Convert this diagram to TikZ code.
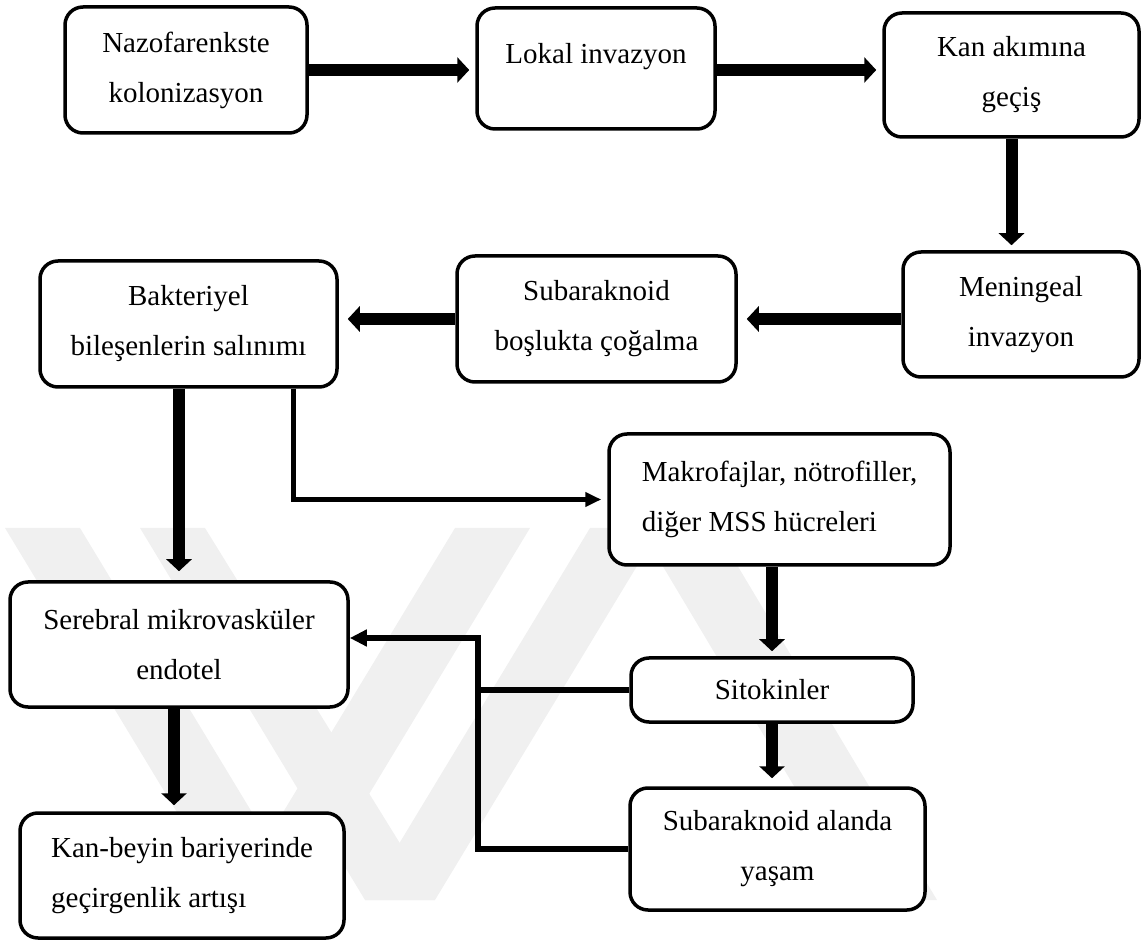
\documentclass[tikz,border=0pt]{standalone}
\usepackage{fontspec}
\setmainfont{Liberation Serif}
\usetikzlibrary{arrows.meta,calc}
\tikzset{
  box/.style={draw=black, line width=1.75pt, rounded corners=9pt, fill=white, inner sep=0pt,
    font=\fontsize{14.5pt}{25pt}\selectfont, align=center},
  boxleft/.style={box, align=left},
  bigarrow/.style={line width=6pt, -{Triangle[width=12.5pt,length=6pt]}},
  smallarrow/.style={line width=2.5pt, -{Triangle[width=7pt,length=8pt]}},
  medline/.style={line width=3pt},
  medarrow/.style={line width=3pt, -{Triangle[width=8pt,length=8.5pt]}},
  wmark/.style={fill=black!6, draw=none}
}
\begin{document}
\begin{tikzpicture}[x=0.5pt,y=-0.5pt]
\useasboundingbox (0,0) rectangle (1146,940);
% faint watermark
\fill[wmark] (5,528) -- (80,528) -- (305,900) -- (230,900) -- cycle;
\fill[wmark] (230,900) -- (305,900) -- (530,528) -- (455,528) -- cycle;
\fill[wmark] (140,528) -- (205,528) -- (435,900) -- (365,900) -- cycle;
\fill[wmark] (365,900) -- (435,900) -- (660,528) -- (590,528) -- cycle;
\fill[wmark] (640,528) -- (715,528) -- (937,900) -- (862,900) -- cycle;
% boxes
\node[box, minimum width=121pt, minimum height=63pt] (b1) at (186,70) {Nazofarenkste\\kolonizasyon};
\node[box, minimum width=119pt, minimum height=60.5pt] (b2) at (596,68.5) {\raisebox{15.5pt}{Lokal invazyon}};
\node[box, minimum width=127.5pt, minimum height=62pt] (b3) at (1011.5,75) {Kan akımına\\geçiş};
\node[box, minimum width=118pt, minimum height=62.5pt] (b4) at (1021,314.5) {Meningeal\\invazyon};
\node[box, minimum width=139.5pt, minimum height=63pt] (b5) at (596.5,319) {Subaraknoid\\boşlukta çoğalma};
\node[box, minimum width=148.5pt, minimum height=63pt] (b6) at (188.5,324) {Bakteriyel\\bileşenlerin salınımı};
\node[boxleft, minimum width=170.5pt, minimum height=65.5pt] (b7) at (779.5,499.5) {Makrofajlar, nötrofiller,\\diğer MSS hücreleri};
\node[box, minimum width=141pt, minimum height=32pt] (b8) at (772,690) {Sitokinler};
\node[box, minimum width=169pt, minimum height=62.5pt] (b9) at (179,644.5) {Serebral mikrovasküler\\endotel};
\node[box, minimum width=147.5pt, minimum height=61pt] (b10) at (777.5,849) {Subaraknoid alanda\\yaşam};
\node[boxleft, minimum width=162pt, minimum height=62.5pt] (b11) at (182,875.5) {Kan-beyin bariyerinde\\geçirgenlik artışı};
\coordinate (j) at (478,638);
% connectors
\draw[bigarrow, shorten >=3pt] (b1.east) -- (b1.east -| b2.west);
\draw[bigarrow, shorten >=3pt] (b2.east |- b1.east) -- (b3.west |- b1.east);
\draw[bigarrow, shorten >=2.5pt] (b3.south) -- (b3.south |- b4.north);
\draw[bigarrow, shorten >=4.5pt] (b4.west |- b5.east) -- (b5.east);
\draw[bigarrow, shorten >=4.5pt] (b5.west) -- (b5.west -| b6.east);
\draw[bigarrow, shorten >=4.5pt] (b9.north |- b6.south) -- (b9.north);
\draw[smallarrow, shorten >=3pt] ([xshift=-22.5pt]b6.south east) |- (b7.west);
\draw[bigarrow, shorten >=2.5pt] (b8.north |- b7.south) -- (b8.north);
\draw[bigarrow, shorten >=4pt] (b8.south) -- (b8.south |- b10.north);
\draw[bigarrow, shorten >=3pt] ([xshift=-2.5pt]b9.south) -- ([xshift=-2.5pt]b9.south |- b11.north);
\draw[medline] (b8.west) -- (b8.west -| j);
\draw[medarrow] (b10.west) -| (j) -- (j -| b9.east);
\end{tikzpicture}
\end{document}
